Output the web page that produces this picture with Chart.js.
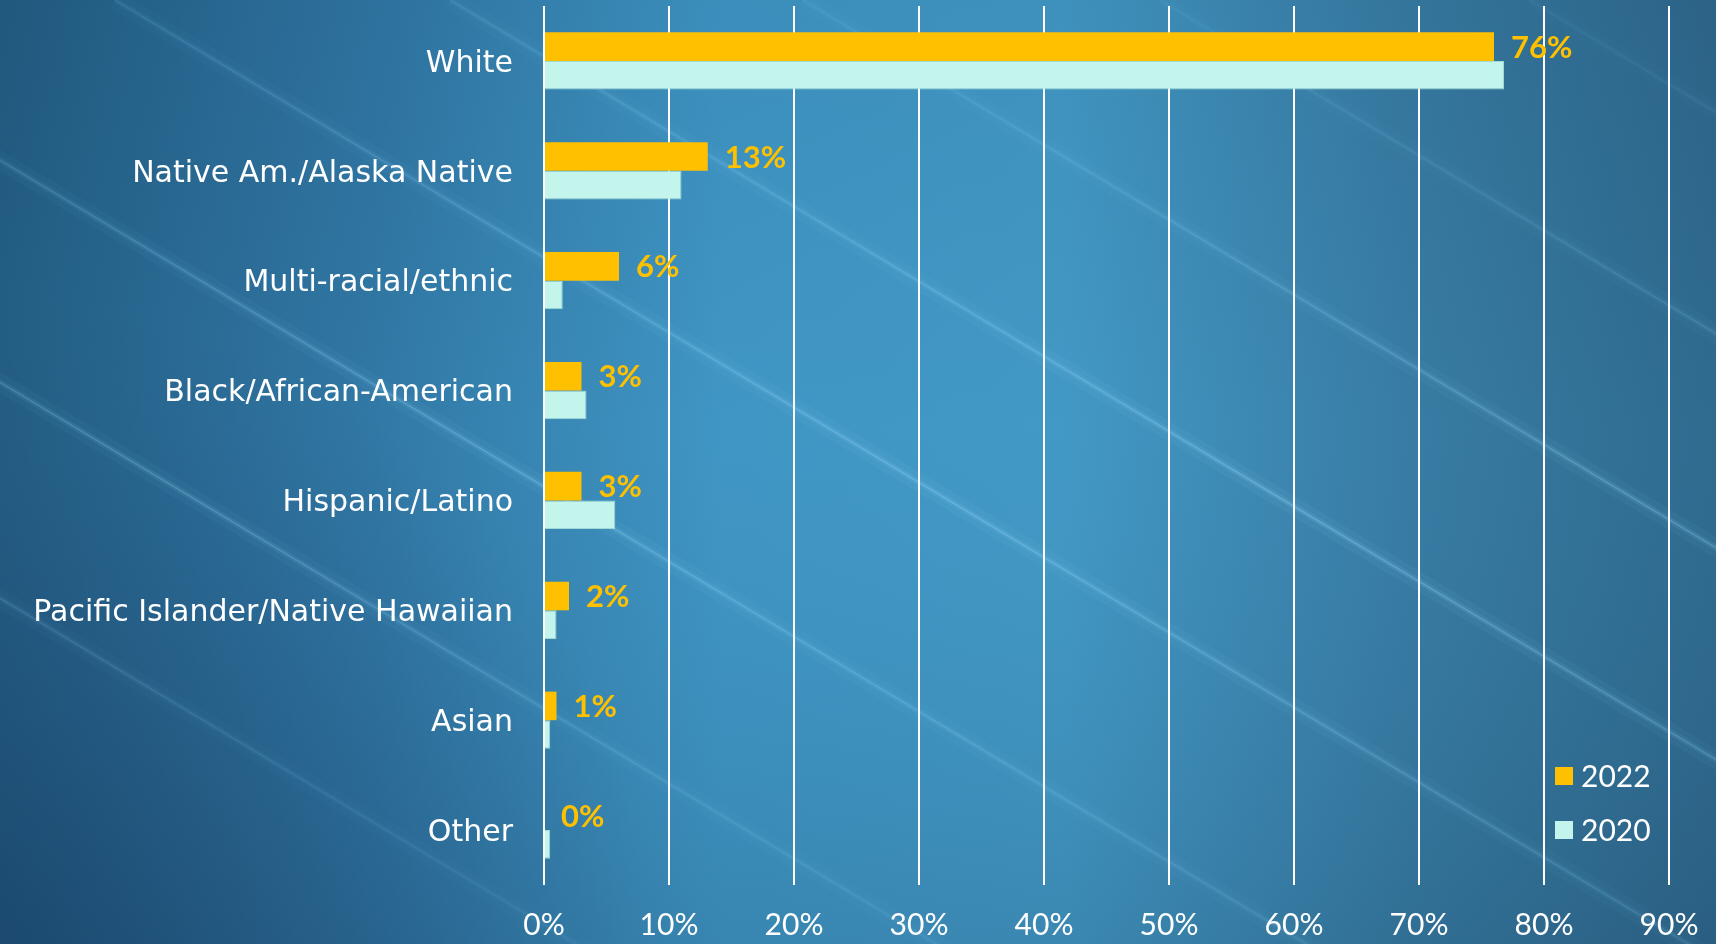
<!DOCTYPE html>
<html>
<head>
<meta charset="utf-8">
<script src="https://cdn.jsdelivr.net/npm/chart.js@4.4.0/dist/chart.umd.min.js"></script>
<style>
html,body{margin:0;padding:0;width:1716px;height:944px;overflow:hidden;background:#2f77a0;}
#wrap{position:relative;width:1716px;height:944px;}
#bg,#c{position:absolute;left:0;top:0;}
</style>
</head>
<body>
<div id="wrap">
<canvas id="bg" width="1716" height="944"></canvas>
<canvas id="c" width="1716" height="944"></canvas>
</div>
<script>
// ---- data ----
const categories = ['White','Native Am./Alaska Native','Multi-racial/ethnic','Black/African-American','Hispanic/Latino','Pacific Islander/Native Hawaiian','Asian','Other'];
const values2022 = [76, 13.1, 6.0, 3.0, 3.0, 2.0, 1.0, 0];
const values2020 = [76.8, 11.0, 1.5, 3.4, 5.7, 1.0, 0.5, 0.5];
const seriesNames = ['2022','2020'];
const axisMin = 0, axisMax = 90, axisStep = 10;

// ---- background (decorative) ----
(function(){
  const c = document.getElementById('bg');
  const g = c.getContext('2d');
  const W = c.width, H = c.height;
  let lg = g.createLinearGradient(0,0,W,0);
  lg.addColorStop(0,'#215a80');
  lg.addColorStop(0.22,'#2f75a2');
  lg.addColorStop(0.42,'#3e94c2');
  lg.addColorStop(0.62,'#4197c3');
  lg.addColorStop(0.82,'#3679a0');
  lg.addColorStop(1,'#2d668a');
  g.fillStyle = lg; g.fillRect(0,0,W,H);
  let vg = g.createLinearGradient(0,0,0,H);
  vg.addColorStop(0,'rgba(20,50,80,0.06)');
  vg.addColorStop(0.45,'rgba(90,180,230,0.06)');
  vg.addColorStop(1,'rgba(20,50,80,0.15)');
  g.fillStyle = vg; g.fillRect(0,0,W,H);
  let rg = g.createRadialGradient(0,H,50,0,H,650);
  rg.addColorStop(0,'rgba(20,50,90,0.30)');
  rg.addColorStop(1,'rgba(20,50,90,0)');
  g.fillStyle = rg; g.fillRect(0,0,W,H);

  const slope = 0.6;
  const lines = [
    {x0:1529,a:0.25},{x0:1160,a:0.35},{x0:803,a:0.5},{x0:450,a:0.65},
    {x0:115,a:0.6},{x0:-267,a:0.55},{x0:-637,a:0.45},{x0:-997,a:0.3}
  ];
  lines.forEach(L=>{
    const x1 = L.x0, y1 = 0;
    const x2 = L.x0 + (H+50)/slope, y2 = H+50;
    const sg = g.createLinearGradient(x1,y1,x2,y2);
    sg.addColorStop(0,'rgba(120,200,240,'+(L.a*0.4)+')');
    sg.addColorStop(0.5,'rgba(140,210,245,'+L.a+')');
    sg.addColorStop(1,'rgba(120,200,240,'+(L.a*0.4)+')');
    g.save();
    g.strokeStyle = sg;
    g.globalAlpha = 0.10; g.lineWidth = 18;
    g.beginPath(); g.moveTo(x1,y1); g.lineTo(x2,y2); g.stroke();
    g.globalAlpha = 0.22; g.lineWidth = 6;
    g.beginPath(); g.moveTo(x1,y1); g.lineTo(x2,y2); g.stroke();
    g.globalAlpha = 0.55; g.lineWidth = 1.6;
    g.beginPath(); g.moveTo(x1,y1); g.lineTo(x2,y2); g.stroke();
    g.restore();
  });
})();

// ---- plugins ----
const valueLabels = {
  id:'valueLabels',
  afterDatasetsDraw(chart){
    const meta = chart.getDatasetMeta(0);
    const ds = chart.data.datasets[0];
    const ctx = chart.ctx;
    ctx.save();
    ctx.font = 'bold 31px Lato';
    ctx.fillStyle = '#FFC000';
    ctx.textAlign = 'left';
    ctx.textBaseline = 'middle';
    meta.data.forEach((bar,i)=>{
      ctx.fillText(Math.round(ds.data[i]) + '%', bar.x + 17, bar.y + 1);
    });
    ctx.restore();
  }
};
const insideLegend = {
  id:'insideLegend',
  afterDraw(chart){
    const a = chart.chartArea;
    const ctx = chart.ctx;
    const x = a.right - 114;
    let y = a.bottom - 109;
    ctx.save();
    ctx.font = '30px Lato';
    ctx.textAlign = 'left';
    ctx.textBaseline = 'middle';
    chart.data.datasets.forEach(ds=>{
      ctx.fillStyle = ds.backgroundColor;
      ctx.fillRect(x, y-9, 18, 18);
      ctx.fillStyle = '#ffffff';
      ctx.fillText(ds.label, x + 26, y + 1);
      y += 54;
    });
    ctx.restore();
  }
};

new Chart(document.getElementById('c'), {
  type:'bar',
  data:{
    labels: categories,
    datasets:[
      {label:seriesNames[0], data:values2022, backgroundColor:'#FFC000', borderWidth:0},
      {label:seriesNames[1], data:values2020, backgroundColor:'#C4F5EC', borderColor:'#9fdad5', borderWidth:1}
    ]
  },
  options:{
    indexAxis:'y',
    responsive:false,
    animation:false,
    devicePixelRatio:1,
    layout:{padding:{top:6,right:47,bottom:0,left:0}},
    datasets:{bar:{categoryPercentage:0.52, barPercentage:1}},
    scales:{
      x:{
        min:axisMin, max:axisMax,
        ticks:{stepSize:axisStep, callback:v=>v+'%', color:'#ffffff', font:{family:'Lato', size:30}, padding:22, maxRotation:0},
        grid:{color:'#ffffff', lineWidth:2, drawTicks:false},
        border:{display:false},
        afterFit:s=>{ s.height = 59; s.paddingLeft = 0; s.paddingRight = 0; }
      },
      y:{
        ticks:{color:'#ffffff', font:{family:'DejaVu Sans', size:30}, padding:31, labelOffset:3},
        grid:{display:false, drawTicks:false},
        border:{display:false},
        afterFit:s=>{ s.width = 544; s.paddingTop = 0; s.paddingBottom = 0; }
      }
    },
    plugins:{legend:{display:false}, tooltip:{enabled:false}}
  },
  plugins:[valueLabels, insideLegend]
});
</script>
</body>
</html>
